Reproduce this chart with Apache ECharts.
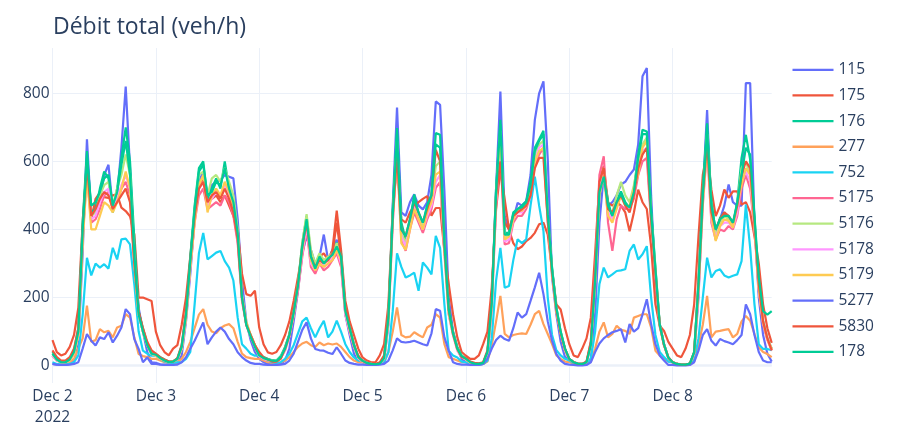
<!DOCTYPE html>
<html><head><meta charset="utf-8">
<script src="https://cdn.jsdelivr.net/npm/echarts@6/dist/echarts.min.js"></script>
<style>html,body{margin:0;padding:0;background:#fff}#c{width:904px;height:432px}</style>
</head><body><div id="c"></div>
<script>
const titleText = 'Débit total (veh/h)';
const dayLabels = ['Dec 2','Dec 3','Dec 4','Dec 5','Dec 6','Dec 7','Dec 8'];
const yearLabel = '2022';
const seriesNames = ['115','175','176','277','752','5175','5176','5178','5179','5277','5830','178'];
const seriesColors = ['#636efa','#EF553B','#00cc96','#FFA15A','#19d3f3','#FF6692','#B6E880','#FF97FF','#FECB52','#636efa','#EF553B','#00cc96'];

const s115 = [
5,3,2,2,5,12,60,330,665,440,470,490,560,590,460,500,640,820,580,340,170,100,40,10,
8,4,3,2,3,8,30,130,270,430,540,570,500,530,540,545,560,555,550,430,250,130,75,40,
20,10,5,3,3,5,15,50,130,220,330,380,340,300,320,385,310,340,370,300,150,90,35,10,
10,5,3,3,5,15,120,470,758,450,440,480,503,470,459,480,560,776,766,512,200,100,50,20,
10,5,3,3,5,15,180,520,805,440,400,430,478,470,483,560,722,800,835,606,260,150,70,25,
20,8,4,3,5,20,150,420,560,470,480,500,532,540,560,576,650,850,874,500,240,122,63,24,
10,5,3,3,5,30,200,500,751,450,400,430,470,532,480,470,470,830,830,420,200,90,35,12];
const s175 = [
75,40,30,35,55,90,170,420,600,430,490,508,495,493,500,503,464,454,439,385,200,200,195,190,
100,60,40,30,50,60,120,200,320,450,520,550,480,490,500,480,500,470,440,400,270,210,205,220,
112,63,39,35,40,60,90,130,190,260,330,400,310,300,320,330,310,340,455,340,190,130,90,50,
24,15,10,10,30,63,180,450,600,430,420,450,470,480,490,498,440,463,463,337,240,151,83,40,
29,20,20,30,63,100,230,460,576,488,400,360,342,350,366,375,390,415,420,385,280,180,165,110,
63,30,25,50,80,141,330,540,586,478,470,480,470,450,395,450,517,480,460,350,180,117,102,70,
50,30,25,50,90,180,380,560,630,517,439,470,517,493,512,512,473,480,450,380,300,180,110,67];
const s176 = [
40,20,12,10,20,45,110,420,630,450,460,520,570,550,450,520,610,700,600,370,160,110,65,40,
34,25,18,12,12,20,60,150,320,470,580,600,490,520,550,520,600,520,470,380,200,120,90,60,
30,25,20,16,15,28,55,93,160,240,360,440,330,290,327,300,317,330,361,330,161,112,63,24,
15,8,5,4,6,25,150,460,698,420,371,425,503,444,410,470,503,683,678,376,171,100,55,30,
20,10,6,5,8,40,190,520,722,390,390,450,460,470,483,540,640,665,690,450,288,171,100,50,
20,10,6,5,10,60,250,520,561,483,434,483,512,480,463,517,620,693,688,460,288,122,63,24,
10,5,3,3,6,40,250,520,712,483,390,434,450,430,410,480,610,678,605,434,239,130,80,50];
const s277 = [
30,15,10,8,10,20,50,80,176,70,75,107,98,102,83,112,117,151,141,83,34,28,25,20,
20,15,10,8,8,10,20,40,70,110,150,166,120,100,95,110,118,122,110,70,35,25,22,20,
20,15,10,8,8,10,15,25,40,55,65,70,60,55,68,60,65,62,65,55,40,25,15,10,
10,6,5,4,5,10,40,100,171,90,83,85,98,90,83,112,120,151,141,63,25,20,15,10,
10,6,4,3,5,12,60,130,205,93,83,90,93,95,93,120,151,161,122,93,63,30,20,12,
10,6,4,3,5,12,50,100,127,83,93,117,105,102,93,141,146,151,151,112,44,30,20,12,
10,6,4,3,5,12,60,120,205,83,100,102,105,107,83,93,130,146,132,93,54,40,34,25];
const s752 = [
10,5,3,3,5,10,30,150,317,265,300,288,298,285,346,312,371,373,356,239,100,44,35,29,
29,20,12,8,8,10,10,20,40,180,330,390,312,322,332,337,307,288,250,141,63,50,35,29,
29,20,15,10,8,10,20,35,60,95,130,141,110,83,110,132,83,100,132,100,63,40,24,15,
15,8,5,4,5,10,40,160,330,290,259,265,273,220,303,288,268,381,346,180,44,30,24,12,
10,5,3,3,5,15,80,250,346,229,234,310,371,360,371,470,555,470,395,200,90,45,30,20,
15,8,5,4,6,20,100,240,288,259,268,278,280,283,337,356,312,327,351,200,90,40,25,12,
10,5,3,3,5,15,80,200,317,259,278,283,265,259,264,268,307,473,346,180,63,49,49,45];
const s5175 = [
30,15,10,10,15,35,90,380,560,420,430,460,500,510,460,480,520,540,500,300,150,100,60,35,
30,20,15,10,12,20,50,140,290,420,500,520,460,470,480,470,500,480,440,360,190,120,85,55,
28,20,16,14,13,22,45,85,145,220,320,400,290,270,300,280,290,310,330,290,150,100,55,22,
12,7,5,4,6,20,130,420,620,370,337,400,450,420,390,430,460,522,540,330,150,90,45,25,
18,9,6,5,8,35,170,470,640,356,360,420,440,440,460,500,590,620,640,420,270,160,95,45,
20,10,6,5,10,70,280,560,615,420,337,430,470,460,463,490,560,600,610,420,270,115,60,22,
10,5,3,3,6,35,220,470,640,420,370,400,395,410,400,440,520,560,520,400,220,120,75,45];
const s5176 = [
30,15,10,10,15,35,90,380,590,440,450,500,530,540,470,520,560,620,560,320,150,100,60,35,
30,20,15,10,12,20,50,140,300,450,560,570,500,550,560,540,580,540,500,400,210,130,90,60,
30,22,18,15,14,25,50,90,155,240,360,445,340,300,330,310,320,330,360,320,160,110,60,25,
14,8,5,4,6,22,140,440,660,390,360,420,480,440,410,460,490,586,600,350,160,95,50,28,
19,10,6,5,8,38,180,500,690,380,380,440,460,460,475,520,610,650,660,440,280,165,98,48,
20,10,6,5,10,60,250,520,580,460,450,500,540,500,480,530,600,650,670,440,280,120,62,23,
10,5,3,3,6,38,230,490,680,460,380,420,440,430,410,470,580,600,560,420,230,130,80,50];
const s5178 = [
30,15,10,10,15,35,90,380,580,430,440,480,510,520,460,490,530,560,520,310,150,100,60,35,
30,20,15,10,12,20,50,140,290,430,520,540,470,490,510,500,530,500,460,370,200,120,85,55,
28,20,16,14,13,22,45,85,150,230,330,410,300,280,310,290,300,320,340,300,150,100,55,22,
12,7,5,4,6,20,130,420,640,380,350,410,470,430,400,440,470,540,560,340,155,90,45,25,
18,9,6,5,8,36,175,480,660,365,370,430,450,450,470,510,600,640,650,430,275,162,96,46,
20,10,6,5,10,60,250,520,570,450,430,470,500,470,460,500,580,630,640,430,275,118,60,22,
10,5,3,3,6,35,220,480,660,430,375,410,420,420,405,450,540,570,540,410,225,125,78,48];
const s5179 = [
35,18,10,10,15,35,90,360,560,400,400,440,480,470,450,480,520,570,520,300,150,100,60,35,
30,20,15,10,12,20,50,140,290,420,530,560,450,500,520,500,540,510,470,380,200,125,90,60,
30,22,17,14,13,24,48,88,150,235,340,430,310,280,300,290,300,310,340,310,160,105,58,24,
13,8,5,4,6,20,130,430,630,360,340,400,460,430,400,450,480,561,570,340,155,92,48,26,
19,9,6,5,8,37,175,490,680,370,380,430,455,455,470,510,600,630,640,430,270,160,95,46,
20,10,6,5,10,60,240,500,560,440,420,460,500,470,470,520,561,640,660,430,275,118,60,22,
10,5,3,3,6,36,225,480,650,440,366,410,430,425,405,470,532,580,560,410,225,125,78,48];
const s5277 = [
5,3,2,2,3,5,10,50,93,73,59,83,78,98,68,88,112,166,151,78,49,10,24,5,
5,3,2,2,2,3,10,25,50,73,100,127,63,83,100,112,100,78,63,39,25,15,8,5,
5,3,2,2,2,3,5,15,35,70,105,127,80,49,45,44,38,34,54,35,15,8,5,3,
3,2,2,2,3,5,15,45,80,70,68,70,73,68,63,59,95,166,161,83,44,10,5,3,
3,2,2,2,5,20,50,75,88,78,73,110,156,141,151,190,230,273,210,130,73,34,15,5,
3,2,1,1,2,10,40,65,80,90,98,102,107,68,122,100,110,150,195,122,63,30,15,2,
2,1,1,1,2,10,44,90,107,73,59,78,72,68,63,75,90,180,151,90,40,15,10,10];
const s5830 = [
45,25,15,15,25,50,110,400,590,440,460,490,510,500,460,480,500,520,480,300,160,110,70,45,
35,25,18,12,12,22,60,160,310,440,520,540,480,500,510,490,520,490,450,370,200,120,90,60,
40,25,18,12,12,20,50,90,160,240,350,420,320,290,310,300,310,330,420,320,170,110,60,30,
14,8,5,5,10,30,150,440,620,400,380,430,480,450,420,460,500,634,600,350,165,95,50,25,
22,12,8,7,10,45,200,500,600,420,400,440,450,460,470,500,580,610,610,430,275,165,95,50,
20,10,6,5,12,70,270,540,580,460,450,480,500,470,450,500,580,620,640,430,270,120,60,25,
10,5,3,3,6,40,240,500,660,450,400,430,450,440,420,470,560,600,580,420,240,130,80,45];
const s178 = [
35,18,10,10,18,40,100,400,610,470,480,510,550,560,470,510,590,660,560,330,150,100,60,35,
32,22,15,10,12,20,55,150,310,460,570,590,500,510,540,530,580,520,480,390,200,120,85,55,
30,22,18,15,14,25,50,90,155,235,350,430,320,285,320,300,315,325,350,320,160,110,60,25,
14,8,5,4,6,22,140,440,680,400,380,430,490,450,420,470,500,650,640,360,165,95,50,28,
20,10,6,5,8,40,185,510,710,385,385,445,460,465,480,530,630,660,680,445,285,170,100,50,
20,10,6,5,10,60,250,510,555,470,440,480,505,475,465,510,610,680,680,450,285,120,62,23,
10,5,3,3,6,40,240,500,690,470,400,430,440,440,420,480,560,640,620,440,260,160,150,160];

const seriesValues = [s115,s175,s176,s277,s752,s5175,s5176,s5178,s5179,s5277,s5830,s178];

// hourly categories: one per hour of each day
const categories = [];
dayLabels.forEach(function(d){ for (let h = 0; h < 24; h++) categories.push(d + ' ' + (h < 10 ? '0' : '') + h + ':00'); });

const FONT = '"Open Sans", "Noto Sans", sans-serif';
const TXT = '#2a3f5f';
const GRID = '#EBF0F8';

const chart = echarts.init(document.getElementById('c'), null, {renderer: 'canvas'});
chart.setOption({
  animation: false,
  backgroundColor: '#ffffff',
  title: {
    text: titleText, left: 48, top: 8,
    textStyle: {fontFamily: FONT, fontSize: 23, fontWeight: 'normal', color: TXT, lineHeight: 28}
  },
  legend: {
    orient: 'vertical', left: 792.5, top: 61.8, padding: 0, itemWidth: 41, itemHeight: 14, itemGap: 9.65,
    icon: 'path://M0,0L410,0L410,23L0,23Z',
    textStyle: {fontFamily: FONT, fontSize: 15.5, color: TXT},
    data: seriesNames.map(function(n, i){ return {name: n, itemStyle: {color: seriesColors[i]}}; })
  },
  grid: {left: 52.5, right: 132.3, top: 48, bottom: 49, containLabel: false, outerBoundsMode: 'none'},
  xAxis: {
    type: 'category', data: categories, boundaryGap: false,
    axisLine: {show: false}, axisTick: {show: false},
    axisLabel: {
      interval: 23, margin: 3, fontFamily: FONT, fontSize: 15.5, color: TXT, lineHeight: 21,
      formatter: function(v, idx){ const d = Math.floor(idx / 24); return idx === 0 ? dayLabels[0] + '\n' + yearLabel : dayLabels[d]; }
    },
    splitLine: {show: true, interval: 23, lineStyle: {color: GRID, width: 1}}
  },
  yAxis: {
    type: 'value', min: -51, max: 933, splitNumber: 5,
    axisLine: {show: false}, axisTick: {show: false},
    axisLabel: {showMinLabel: false, showMaxLabel: false, margin: 3, fontFamily: FONT, fontSize: 15.5, color: TXT,
      formatter: function(v){ return v % 200 === 0 ? String(v) : ''; }},
    splitLine: {show: true, showMinLine: false, showMaxLine: false, lineStyle: {color: GRID, width: 1}}
  },
  series: seriesNames.map(function(n, i){
    return {
      name: n, type: 'line', data: seriesValues[i], showSymbol: false, symbol: 'none',
      lineStyle: {width: 2.2, color: seriesColors[i]}, itemStyle: {color: seriesColors[i]},
      emphasis: {disabled: true}, silent: true,
      markLine: i === 0 ? {silent: true, symbol: 'none', label: {show: false}, lineStyle: {color: GRID, width: 2.6, type: 'solid'}, data: [{yAxis: 0}], z: 0} : undefined,
      z: 2
    };
  })
});
</script>
</body></html>
